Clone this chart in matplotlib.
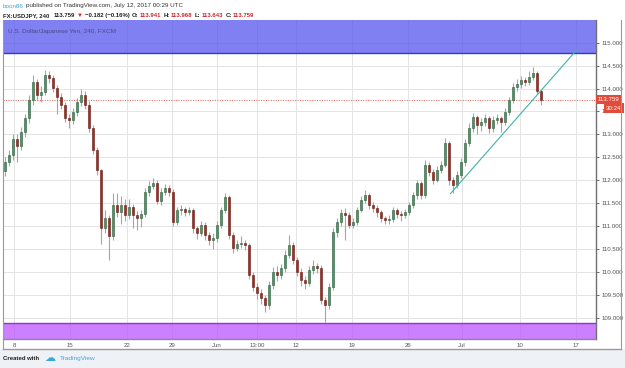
import matplotlib
matplotlib.use('Agg')
import matplotlib.pyplot as plt
import matplotlib.transforms as mtransforms
from matplotlib.patches import Rectangle
from matplotlib.lines import Line2D
import numpy as np

# ---------------- data (USD/JPY, 240 min candles, sampled) ----------------
first_open = 112.20
closes = [
    112.40, 112.55, 112.90, 112.75, 113.05, 113.35, 113.75, 114.14, 113.86, 113.92,
    114.30, 114.23, 114.01, 113.81, 113.64, 113.36, 113.31, 113.49, 113.71, 113.86,
    113.64, 113.14, 112.66, 112.22, 110.95, 111.17, 110.78, 111.45, 111.30, 111.45,
    111.24, 111.41, 111.24, 111.17, 111.26, 111.74, 111.87, 111.94, 111.55, 111.74,
    111.83, 111.74, 111.09, 111.35, 111.37, 111.30, 111.35, 110.95, 110.84, 111.02,
    110.80, 110.69, 110.73, 111.02, 111.35, 111.63, 110.80, 110.52, 110.60, 110.63,
    110.58, 109.93, 109.67, 109.53, 109.42, 109.27, 109.71, 110.00, 109.93, 110.08,
    110.36, 110.58, 110.26, 110.00, 109.82, 109.75, 110.04, 110.12, 110.08, 109.38,
    109.27, 109.67, 110.87, 111.09, 111.28, 111.24, 111.02, 111.09, 111.35, 111.57,
    111.67, 111.45, 111.39, 111.30, 111.17, 111.13, 111.15, 111.35, 111.26, 111.24,
    111.30, 111.45, 111.67, 111.93, 111.67, 112.33, 112.18, 112.00, 112.22, 112.33,
    112.81, 112.00, 111.89, 112.11, 112.39, 112.81, 113.14, 113.38, 113.20, 113.27,
    113.35, 113.14, 113.31, 113.35, 113.27, 113.49, 113.75, 114.03, 114.09, 114.19,
    114.14, 114.25, 114.34, 113.941, 113.759,
]
highs = [
    112.50, 112.65, 113.00, 113.00, 113.15, 113.45, 113.85, 114.30, 114.20, 114.05,
    114.40, 114.38, 114.30, 114.08, 113.90, 113.70, 113.45, 113.58, 113.80, 114.00,
    113.95, 113.72, 113.20, 112.72, 112.25, 111.35, 111.25, 111.71, 111.72, 111.65,
    111.60, 111.58, 111.48, 111.32, 111.35, 111.82, 111.98, 112.05, 112.00, 111.82,
    111.92, 111.90, 111.80, 111.42, 111.45, 111.42, 111.42, 111.40, 111.00, 111.10,
    111.08, 110.88, 110.85, 111.10, 111.42, 111.72, 111.68, 110.88, 110.70, 110.78,
    110.70, 110.62, 110.00, 109.75, 109.62, 109.50, 109.80, 110.10, 110.12, 110.18,
    110.48, 110.80, 110.65, 110.32, 110.08, 109.90, 110.12, 110.25, 110.20, 110.15,
    109.45, 109.75, 110.95, 111.18, 111.38, 111.39, 111.30, 111.18, 111.42, 111.65,
    111.78, 111.72, 111.52, 111.45, 111.35, 111.22, 111.25, 111.42, 111.40, 111.32,
    111.38, 111.52, 111.75, 112.00, 111.98, 112.44, 112.40, 112.25, 112.30, 112.42,
    112.92, 112.85, 112.08, 112.20, 112.48, 112.90, 113.25, 113.46, 113.42, 113.35,
    113.45, 113.40, 113.40, 113.45, 113.40, 113.58, 113.82, 114.12, 114.20, 114.28,
    114.25, 114.38, 114.47, 114.38, 113.968,
]
lows = [
    112.10, 112.30, 112.45, 112.40, 112.65, 112.95, 113.25, 113.65, 113.75, 113.70,
    113.85, 114.12, 113.92, 113.45, 113.55, 113.28, 113.14, 113.22, 113.40, 113.62,
    113.55, 113.05, 112.58, 112.12, 110.60, 110.85, 110.26, 110.70, 111.20, 111.05,
    111.10, 111.15, 110.95, 110.91, 110.98, 111.20, 111.65, 111.80, 111.48, 111.45,
    111.68, 111.65, 111.00, 111.02, 111.25, 111.22, 111.25, 110.85, 110.72, 110.78,
    110.70, 110.58, 110.50, 110.65, 110.95, 111.28, 110.72, 110.42, 110.45, 110.52,
    110.48, 109.85, 109.58, 109.40, 109.30, 109.12, 109.20, 109.62, 109.80, 109.85,
    110.00, 110.30, 110.18, 109.92, 109.70, 109.62, 109.70, 109.95, 109.98, 109.30,
    108.90, 109.20, 109.60, 110.75, 111.00, 110.69, 110.95, 110.95, 111.02, 111.30,
    111.50, 111.38, 111.30, 111.20, 111.08, 111.05, 111.05, 111.08, 111.18, 111.12,
    111.18, 111.25, 111.40, 111.60, 111.58, 111.62, 112.10, 111.92, 111.95, 112.15,
    112.28, 111.90, 111.72, 111.82, 112.05, 112.32, 112.75, 113.05, 113.00, 113.08,
    113.18, 113.02, 113.05, 113.22, 113.05, 113.20, 113.42, 113.68, 113.95, 114.02,
    114.05, 114.08, 114.18, 113.88, 113.643,
]
last_price = 113.759
countdown = '30:24'

xtick_pos = [2.25, 16.25, 30.5, 41.75, 53, 63, 72.75, 86.75, 100.75, 114.25, 128.75, 142.75]
xtick_labels = ['8', '15', '22', '29', 'Jun', '13:00', '12', '19', '26', 'Jul', '10', '17']
ytick_vals = [109.0, 109.5, 110.0, 110.5, 111.0, 111.5, 112.0, 112.5,
              113.0, 113.5, 114.0, 114.5, 115.0]

trend_x = [111.4, 143.1]
trend_y = [111.71, 114.86]
upper_zone = (114.77, 115.495)
lower_zone = (108.535, 108.885)

FONT = 'Liberation Sans'

# ---------------- figure ----------------
W, H = 625, 368
fig = plt.figure(figsize=(W / 100, H / 100), dpi=100)
fig.patch.set_facecolor('white')
fig.patches.append(Rectangle((0, 0), 1, (H - 349) / H, transform=fig.transFigure,
                             facecolor='#eef1f6', edgecolor='none', zorder=0))

ax = fig.add_axes([3 / W, (H - 339) / H, 593 / W, 319 / H])
ax.set_facecolor('white')

n = len(closes)
x = np.arange(n)
c = np.array(closes)
o = np.array([first_open] + closes[:-1])
hi = np.array(highs)
lo = np.array(lows)
up = c >= o

ax.vlines(x, lo, hi, color='#a6a6a6', lw=0.8, zorder=2)
body_h = np.maximum(np.abs(c - o), 0.012)
body_b = np.minimum(o, c)
ax.bar(x[up], body_h[up], bottom=body_b[up], width=0.6,
       color='#4f9466', edgecolor='#2a5c3c', linewidth=0.4, zorder=3)
ax.bar(x[~up], body_h[~up], bottom=body_b[~up], width=0.6,
       color='#9e2e24', edgecolor='#661810', linewidth=0.4, zorder=3)

# zones
ax.axhspan(upper_zone[0], upper_zone[1], facecolor=(0x55 / 255, 0x55 / 255, 240 / 255, 0.75),
           edgecolor='none', zorder=1)
ax.axhline(upper_zone[0], color='#3535d5', lw=1.0, zorder=1.1)
ax.axhspan(lower_zone[0], lower_zone[1], facecolor=(187 / 255, 85 / 255, 1.0, 0.75),
           edgecolor='none', zorder=1)
ax.axhline(lower_zone[1], color='#9030e0', lw=1.0, zorder=1.1)

# last price line
ax.axhline(last_price, color='#e06050', lw=0.7, ls=(0, (1, 1.5)), zorder=2.5)

# trend line
ax.plot(trend_x, trend_y, color='#3fb2a8', lw=0.8, zorder=4)

ax.set_xlim(-0.5, 147.75)
ax.set_ylim(108.535, 115.495)

ax.set_xticks(xtick_pos)
ax.set_xticklabels(xtick_labels, fontfamily=FONT)
ax.yaxis.tick_right()
ax.set_yticks(ytick_vals)
ax.set_yticklabels([f'{v:.3f}' for v in ytick_vals], fontfamily=FONT)
ax.tick_params(axis='x', length=0, labelsize=4.4, colors='#555555', pad=2.8)
ax.tick_params(axis='y', length=2.5, width=0.6, labelsize=4.4, colors='#555555', pad=1.2)
ax.grid(True, color='#e4e4e4', lw=0.7)
ax.set_axisbelow(True)

for s in ('top', 'left'):
    ax.spines[s].set_visible(False)
ax.spines['right'].set_color('#707070')
ax.spines['right'].set_linewidth(1.0)
ax.spines['bottom'].set_color('#8a8a8a')
ax.spines['bottom'].set_linewidth(1.0)

# price labels on the axis
trans = mtransforms.blended_transform_factory(ax.transAxes, ax.transData)
ax.text(1.003, last_price, f'{last_price:.3f}', transform=trans, fontsize=4.4, color='white',
        family=FONT, ha='left', va='center', zorder=10, clip_on=False,
        bbox=dict(boxstyle='square,pad=0.35', fc='#e04b3a', ec='none'))
ax.annotate(countdown, xy=(1.0, last_price), xycoords=trans, xytext=(10, -8.5),
            textcoords='offset pixels', fontsize=4.4, color='white', family=FONT,
            ha='left', va='center', zorder=10, annotation_clip=False,
            bbox=dict(boxstyle='square,pad=0.35', fc='#e04b3a', ec='none'))

# frame lines
frame_col = '#9a9a9a'
fig.lines.append(Line2D([3 / W, 3 / W], [(H - 349) / H, (H - 20) / H], transform=fig.transFigure,
                        color=frame_col, lw=0.8))
fig.lines.append(Line2D([3 / W, 621 / W], [(H - 349) / H, (H - 349) / H], transform=fig.transFigure,
                        color=frame_col, lw=1.0))
fig.lines.append(Line2D([621 / W, 621 / W], [(H - 349) / H, (H - 20) / H], transform=fig.transFigure,
                        color=frame_col, lw=0.8))

# ---------------- header texts ----------------
renderer = fig.canvas.get_renderer()


def _draw(x0_px, y_px, parts, fs, weight):
    texts = []
    xpx = x0_px
    for txt, col, gap in parts:
        t = fig.text(xpx / W, 1 - y_px / H, txt, color=col, fontsize=fs, family=FONT,
                     fontweight=weight, ha='left', va='center')
        bb = t.get_window_extent(renderer=renderer)
        texts.append(t)
        xpx += bb.width + gap
    return texts, xpx - x0_px - parts[-1][2]


def fit_segments(x0_px, y_px, parts, target_w, weight='normal', fs0=6.0):
    gaps = sum(p[2] for p in parts[:-1])
    texts, w = _draw(x0_px, y_px, parts, fs0, weight)
    for t in texts:
        t.remove()
    fs = fs0 * (target_w - gaps) / (w - gaps)
    _draw(x0_px, y_px, parts, fs, weight)


dark = '#222222'
red = '#c8282d'
fit_segments(3, 6, [('boon86', '#3aa8dc', 2),
                    ('published on TradingView.com, July 12, 2017 00:29 UTC', '#333333', 0)],
             182)
fit_segments(3, 15.5, [('FX:USDJPY, 240', dark, 4),
                       ('113.759', dark, 2),
                       ('▼', red, 2),
                       ('\u22120.182 (\u22120.16%)', dark, 2.5),
                       ('O:', dark, 1), ('113.941', red, 2.5),
                       ('H:', dark, 1), ('113.968', red, 2.5),
                       ('L:', dark, 1), ('113.643', red, 2.5),
                       ('C:', dark, 1), ('113.759', red, 0)],
             254, 'bold')

fit_segments(8, 31, [('U.S. Dollar/Japanese Yen, 240, FXCM', '#4a4a80', 0)], 109)

# footer
fit_segments(3, 358.5, [('Created with', '#1e1e1e', 0)], 37, 'bold')
fig.text(44 / W, 1 - 358 / H, '\u2601', fontsize=8, color='#3aa8dc', ha='left', va='center')
fit_segments(60, 358.5, [('TradingView', '#3aa8dc', 0)], 36)

fig.savefig('out.png', dpi=100, facecolor=fig.get_facecolor())
